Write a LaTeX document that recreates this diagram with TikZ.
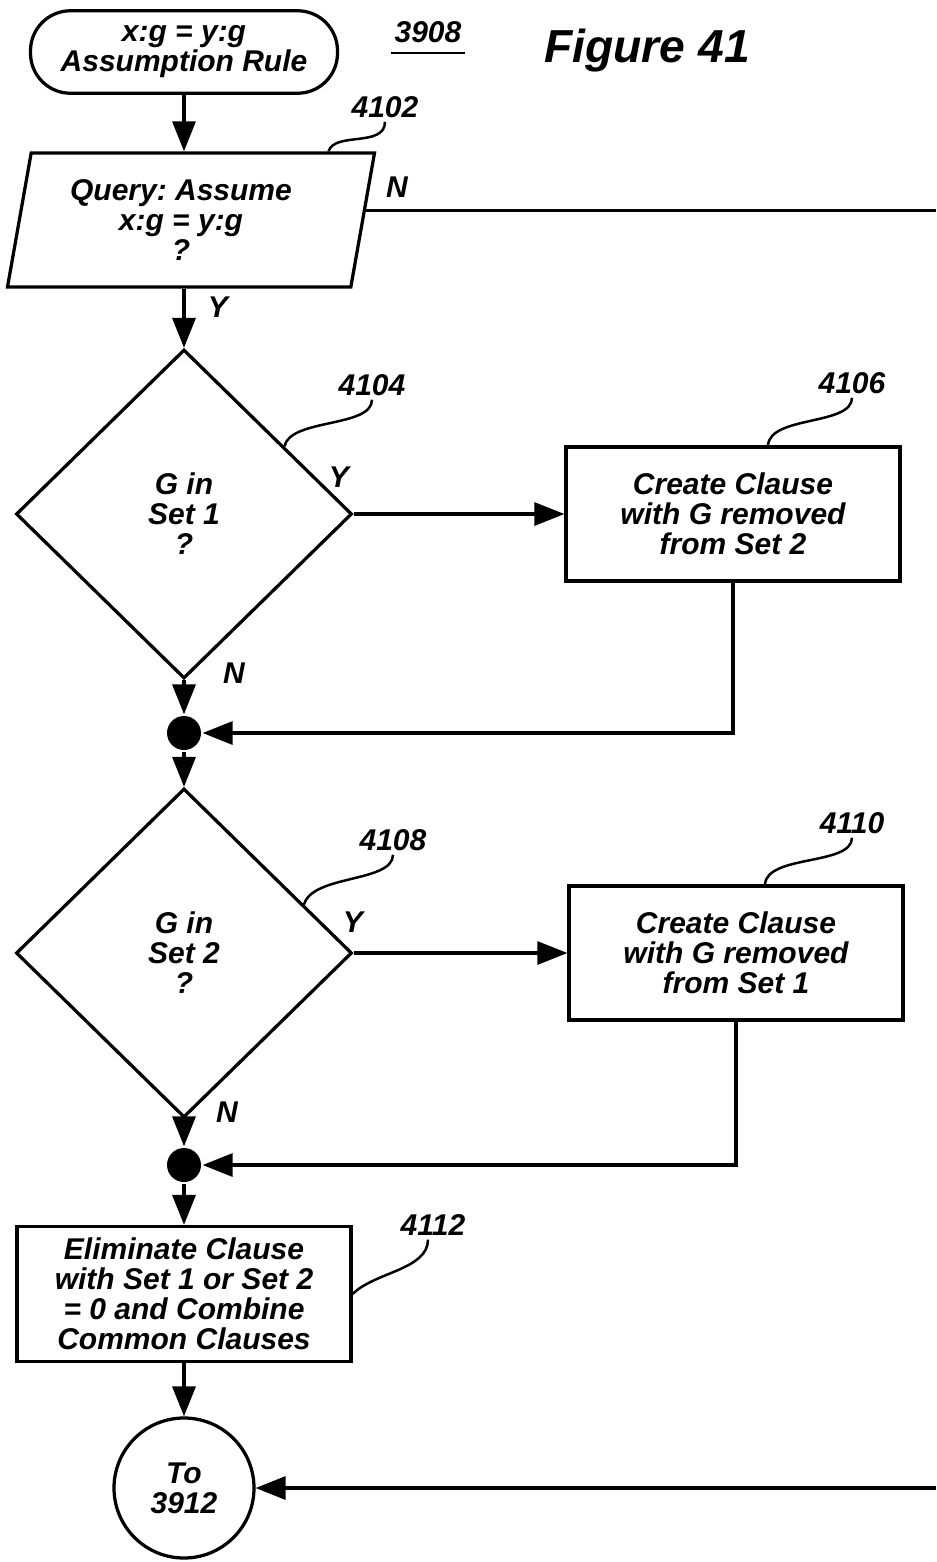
\documentclass[tikz,border=0pt]{standalone}
\usepackage{fontspec}
\setmainfont{Liberation Sans}
\usetikzlibrary{arrows.meta,shapes.geometric,positioning}
\frenchspacing

\begin{document}
\begin{tikzpicture}[
    x=0.4pt, y=-0.4pt,
    font=\fontsize{12}{12}\selectfont\bfseries\itshape,
    line width=1.3pt,
    term/.style={draw,rounded corners=16pt,align=center,minimum width=122.8pt,
                 minimum height=33pt,inner sep=1pt},
    query/.style={draw,trapezium,trapezium left angle=74.6,trapezium right angle=105.4,
                  trapezium stretches body,minimum width=146.8pt,minimum height=53.6pt,
                  align=center,inner sep=1pt},
    decision/.style={draw,diamond,align=center,minimum width=134.4pt,
                     minimum height=131.6pt,inner sep=0pt},
    box/.style={draw,align=center,minimum width=133.6pt,minimum height=53.6pt,inner sep=2pt},
    junction/.style={circle,fill,minimum size=13.6pt,inner sep=0pt},
    arr/.style={-{Triangle[length=12pt,width=9.2pt]}},
    lead/.style={line width=1pt},
    tag/.style={inner sep=1pt}
  ]
    \useasboundingbox (0,0) rectangle (936,1562);

    % flow column
    \node[term] (start) at (184,52) {x:g = y:g\\Assumption Rule};
    \node[query] (ask) at (191,220) {\hspace*{-8pt}Query: Assume\\\hspace*{-8pt}x:g = y:g\\\hspace*{-8pt}?};
    \node[decision] (gone) at (184,514) {G in\\Set 1\\?};
    \node[box] (cl2) at (733,514) {Create Clause\\with G removed\\from Set 2};
    \node[junction] (j1) at (184,733) {};
    \node[decision] (gtwo) at (184,953) {G in\\Set 2\\?};
    \node[box] (cl1) at (736,953) {Create Clause\\with G removed\\from Set 1};
    \node[junction] (j2) at (184,1165) {};
    \node[box,minimum height=54pt] (elim) at (184,1294)
      {Eliminate Clause\\with Set 1 or Set 2\\= 0 and Combine\\Common Clauses};
    \node[circle,draw,minimum size=56pt,align=center,inner sep=0pt] (to) at (184,1488)
      {To\\3912};
    \coordinate (nout) at (936,212);
    \coordinate (nin) at (936,1488);

    % heading
    \node[tag] (t3908) at (428,32) {3908};
    \draw[lead] ([yshift=-2.5pt]t3908.south west) -- ([yshift=-2.5pt]t3908.south east);
    \node[anchor=base,font=\fontsize{18.5}{20}\selectfont\bfseries\itshape] (fig)
      at (647,62) {Figure 41};

    % connectors
    \draw[arr] (start.south) -- (start.south |- ask.north);
    \draw[arr] (ask.south -| gone.north) -- (gone.north);
    \draw (ask.3) -- (ask.3 -| nout);
    \draw[arr] (gone.east) -- (cl2.west);
    \draw[arr] (gone.south) -- (j1);
    \draw[arr] (cl2.south) |- (j1);
    \draw[arr] (j1) -- (gtwo.north);
    \draw[arr] (gtwo.east) -- (cl1.west);
    \draw[arr] (gtwo.south) -- (j2);
    \draw[arr] (cl1.south) |- (j2);
    \draw[arr] (j2) -- (elim);
    \draw[arr] (elim) -- (to);
    \draw[arr] (nin) -- (to);

    % branch labels
    \node[tag] at (218,307) {Y};
    \node[tag] at (397,187) {N};
    \node[tag] at (339,477) {Y};
    \node[tag] at (234,673) {N};
    \node[tag] at (353,922) {Y};
    \node[tag] at (227,1112) {N};

    % reference numerals
    \node[tag] (t4102) at (385,107) {4102};
    \node[tag] (t4104) at (372,385) {4104};
    \node[tag] (t4106) at (852,383) {4106};
    \node[tag] (t4108) at (393,840) {4108};
    \node[tag] (t4110) at (852,823) {4110};
    \node[tag] (t4112) at (433,1225) {4112};
    \draw[lead] ([xshift=55pt]ask.north) .. controls +(6,-20) and +(0,26) .. (t4102.south);
    \draw[lead] (gone.34) .. controls +(6,-28) and +(0,28) .. (t4104.south);
    \draw[lead] ([xshift=14pt]cl2.north) .. controls +(2,-30) and +(0,28) .. (t4106.south);
    \draw[lead] (gtwo.22) .. controls +(8,-30) and +(0,28) .. (t4108.south);
    \draw[lead] ([xshift=11.6pt]cl1.north) .. controls +(2,-30) and +(0,28) .. (t4110.south);
    \draw[lead] (elim.east) .. controls +(22,-22) and +(0,30) .. ([xshift=-2pt]t4112.south);
\end{tikzpicture}
\end{document}
